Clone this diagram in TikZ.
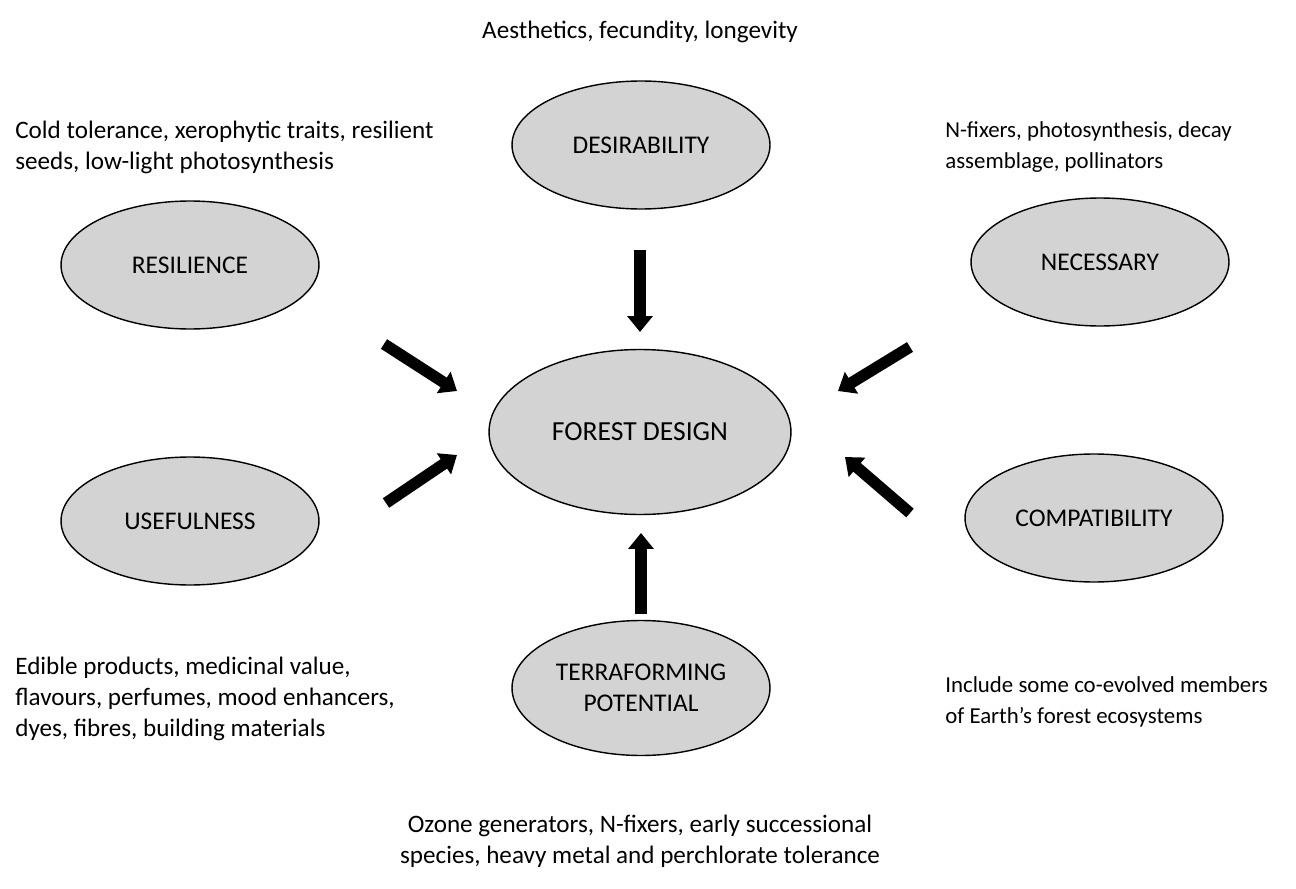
\documentclass[tikz,border=0pt]{standalone}
\usepackage{fontspec}
\setmainfont{Carlito}
\usetikzlibrary{shapes.geometric,arrows.meta}
\definecolor{ovalgrey}{RGB}{211,211,211}
\tikzset{
  oval/.style={ellipse, draw=black, line width=0.8pt, fill=ovalgrey,
    minimum width=5.16cm, minimum height=2.56cm, inner sep=0pt,
    align=center, font=\fontsize{14.5}{17.6}\selectfont},
  note/.style={align=left, anchor=base west, inner sep=0pt,
    font=\fontsize{14.3}{17.6}\selectfont},
  rnote/.style={note, font=\fontsize{13}{17.2}\selectfont},
  fat/.style={line width=6.5pt, -{Triangle[width=14pt,length=9pt]}},
}
\begin{document}
\begin{tikzpicture}[x=0.02cm, y=-0.02cm]
                \useasboundingbox (0,0) rectangle (1296,889);
                \node[oval, minimum width=6.04cm, minimum height=3.3cm,
                  font=\fontsize{15.7}{18}\selectfont] (fd) at (640,432) {FOREST DESIGN};
                \node[oval] (des) at (641,145) {DESIRABILITY};
                \node[oval] (res) at (190,265) {RESILIENCE};
                \node[oval] (nec) at (1100,262) {NECESSARY};
                \node[oval] (use) at (190,521) {USEFULNESS};
                \node[oval] (com) at (1094,518) {COMPATIBILITY};
                \node[oval, minimum height=2.7cm] (ter) at (641,688) {TERRAFORMING\\POTENTIAL};
                % notes, placed by the baseline of their last line
                \node[note, anchor=base, align=center] (desnote) at (640,38) {Aesthetics, fecundity, longevity};
                \node[note] (resnote) at (15,169) {Cold tolerance, xerophytic traits, resilient\\seeds, low-light photosynthesis};
                \node[rnote] (necnote) at (945,168) {N-fixers, photosynthesis, decay\\assemblage, pollinators};
                \node[note] (usenote) at (15,736) {Edible products, medicinal value,\\flavours, perfumes, mood enhancers,\\dyes, fibres, building materials};
                \node[rnote] (comnote) at (945,723) {Include some co-evolved members\\of Earth’s forest ecosystems};
                \node[note, anchor=base, align=center] (ternote) at (640,863) {Ozone generators, N-fixers, early successional\\species, heavy metal and perchlorate tolerance};
                % arrows
                \coordinate (a1) at (640,250);
                \coordinate (b1) at (640,332);
                \coordinate (a2) at (384,344);
                \coordinate (b2) at (457,391);
                \coordinate (a3) at (910,347);
                \coordinate (b3) at (838,391);
                \coordinate (a4) at (386,503);
                \coordinate (b4) at (457,455);
                \coordinate (a5) at (910,513);
                \coordinate (b5) at (845,457);
                \coordinate (a6) at (641,614);
                \coordinate (b6) at (641,533);
                \foreach \i in {1,...,6}
                  \draw[fat] (a\i) -- (b\i);
            \end{tikzpicture}
\end{document}
